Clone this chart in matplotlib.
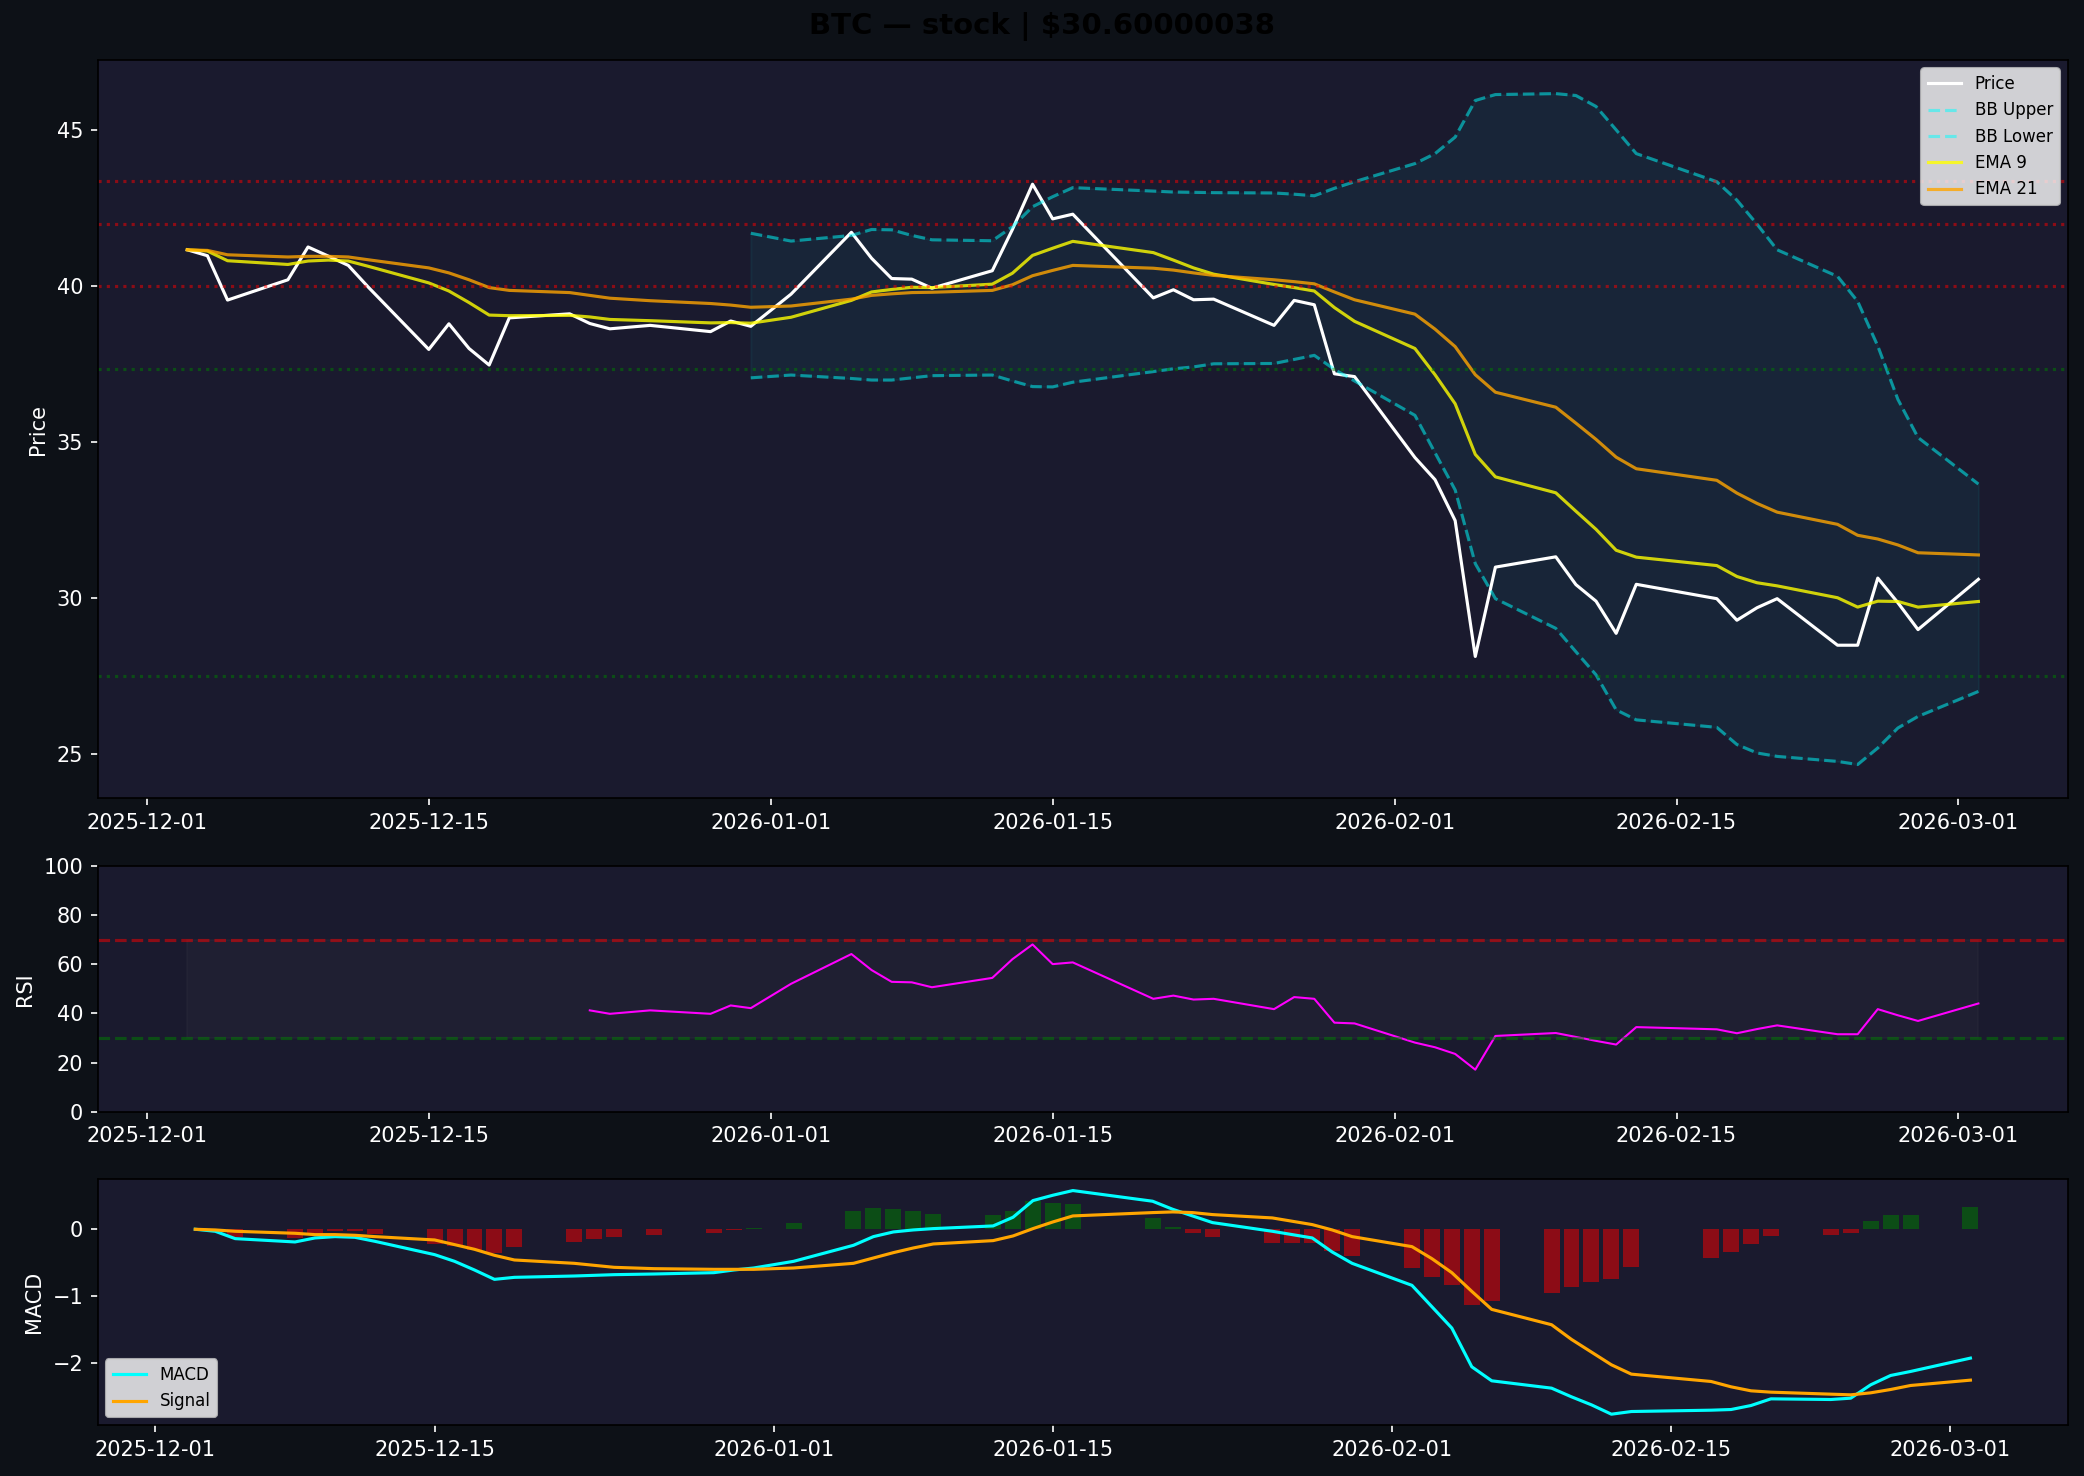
import matplotlib
matplotlib.use('Agg')
import matplotlib.pyplot as plt
import matplotlib.dates as mdates
import numpy as np
import pandas as pd

# trading days shown (weekdays, market holidays skipped)
dates = pd.bdate_range('2025-12-03', '2026-03-02', freq='C',
                       holidays=['2025-12-25', '2026-01-01', '2026-01-19', '2026-02-16'])

price = [41.15, 40.96, 39.54, 40.19, 41.24, 40.95, 40.65, 39.95, 37.96, 38.78,
         37.99, 37.46, 38.97, 39.10, 38.79, 38.62, 38.73, 38.53, 38.87, 38.70,
         39.73, 41.71, 40.88, 40.23, 40.21, 39.92, 40.48, 41.80, 43.25, 42.14,
         42.29, 39.61, 39.87, 39.55, 39.57, 38.73, 39.53, 39.39, 37.18, 37.09,
         34.50, 33.79, 32.48, 28.13, 30.99, 31.32, 30.43, 29.90, 28.87, 30.44,
         29.98, 29.29, 29.69, 29.98, 28.49, 28.49, 30.64, 29.85, 28.99, 30.60]

ema9 = [41.15, 41.11, 40.80, 40.68, 40.79, 40.82, 40.79, 40.62, 40.09, 39.83,
        39.46, 39.06, 39.04, 39.05, 39.00, 38.92, 38.88, 38.81, 38.82, 38.80,
        38.99, 39.53, 39.80, 39.88, 39.95, 39.94, 40.05, 40.40, 40.97, 41.20,
        41.42, 41.06, 40.82, 40.57, 40.37, 40.04, 39.94, 39.83, 39.30, 38.86,
        37.99, 37.15, 36.22, 34.60, 33.88, 33.37, 32.78, 32.20, 31.53, 31.31,
        31.04, 30.69, 30.49, 30.39, 30.01, 29.71, 29.90, 29.89, 29.71, 29.89]

ema21 = [41.15, 41.13, 40.99, 40.92, 40.94, 40.94, 40.92, 40.83, 40.57, 40.41,
         40.19, 39.94, 39.85, 39.78, 39.69, 39.60, 39.52, 39.43, 39.38, 39.31,
         39.35, 39.57, 39.69, 39.74, 39.78, 39.79, 39.85, 40.03, 40.32, 40.49,
         40.65, 40.56, 40.50, 40.41, 40.33, 40.19, 40.13, 40.06, 39.80, 39.55,
         39.09, 38.61, 38.05, 37.15, 36.59, 36.11, 35.60, 35.08, 34.51, 34.14,
         33.77, 33.36, 33.03, 32.75, 32.36, 32.01, 31.89, 31.70, 31.45, 31.38]

# Bollinger bands start at the 20th trading day
bb_start = 19
bb_upper = [41.68, 41.43, 41.61, 41.80, 41.79, 41.61, 41.47, 41.44, 41.89, 42.53,
            42.85, 43.14, 43.03, 43.00, 42.99, 42.98, 42.97, 42.93, 42.88, 43.12,
            43.33, 43.91, 44.23, 44.76, 45.93, 46.12, 46.15, 46.09, 45.74, 44.99,
            44.23, 43.33, 42.74, 41.97, 41.15, 40.30, 39.50, 38.07, 36.36, 35.14,
            33.65]
bb_lower = [37.05, 37.14, 37.03, 36.98, 36.98, 37.05, 37.12, 37.14, 36.95, 36.77,
            36.76, 36.91, 37.25, 37.34, 37.40, 37.50, 37.51, 37.64, 37.77, 37.32,
            36.95, 35.85, 34.65, 33.46, 31.10, 29.98, 29.03, 28.28, 27.54, 26.42,
            26.10, 25.86, 25.31, 25.04, 24.93, 24.77, 24.67, 25.20, 25.84, 26.21,
            27.01]

resistance = [43.34, 41.97, 40.00]
support = [37.34, 27.52]

# RSI starts at the 15th trading day
rsi_start = 14
rsi = [41.2, 39.8, 41.2, 39.8, 43.2, 42.1, 52.0, 64.1, 57.6, 52.8,
       52.6, 50.6, 54.4, 62.0, 68.0, 60.0, 60.7, 45.9, 47.2, 45.6,
       45.9, 41.7, 46.6, 45.9, 36.2, 35.9, 28.1, 26.2, 23.5, 17.1,
       30.8, 32.0, 30.4, 28.8, 27.3, 34.4, 33.5, 31.9, 33.6, 35.1,
       31.5, 31.5, 41.7, 39.2, 36.9, 44.0]

macd = [0.00, -0.03, -0.14, -0.19, -0.13, -0.11, -0.12, -0.18, -0.38, -0.48,
        -0.61, -0.75, -0.72, -0.70, -0.69, -0.68, -0.67, -0.65, -0.61, -0.58,
        -0.48, -0.24, -0.11, -0.04, -0.01, 0.01, 0.05, 0.18, 0.43, 0.51,
        0.58, 0.42, 0.30, 0.20, 0.10, -0.03, -0.08, -0.13, -0.34, -0.51,
        -0.84, -1.16, -1.48, -2.06, -2.27, -2.38, -2.51, -2.63, -2.77, -2.73,
        -2.71, -2.70, -2.64, -2.54, -2.55, -2.53, -2.33, -2.19, -2.13, -1.93]
signal = [0.00, -0.01, -0.03, -0.06, -0.08, -0.08, -0.09, -0.11, -0.16, -0.23,
          -0.30, -0.39, -0.46, -0.51, -0.54, -0.57, -0.59, -0.60, -0.60, -0.60,
          -0.58, -0.51, -0.43, -0.35, -0.28, -0.22, -0.17, -0.10, 0.01, 0.11,
          0.20, 0.25, 0.26, 0.25, 0.22, 0.17, 0.12, 0.07, -0.01, -0.11,
          -0.26, -0.44, -0.65, -0.93, -1.20, -1.43, -1.65, -1.84, -2.03, -2.17,
          -2.28, -2.36, -2.42, -2.44, -2.47, -2.48, -2.45, -2.40, -2.34, -2.26]
hist = [0.00, -0.02, -0.11, -0.13, -0.05, -0.03, -0.03, -0.07, -0.22, -0.25,
        -0.31, -0.36, -0.26, -0.19, -0.15, -0.11, -0.08, -0.05, -0.01, 0.02,
        0.10, 0.27, 0.32, 0.31, 0.27, 0.23, 0.22, 0.28, 0.42, 0.40,
        0.38, 0.17, 0.04, -0.05, -0.12, -0.20, -0.20, -0.20, -0.33, -0.40,
        -0.58, -0.72, -0.83, -1.13, -1.07, -0.95, -0.86, -0.79, -0.74, -0.56,
        -0.43, -0.34, -0.22, -0.10, -0.09, -0.05, 0.12, 0.21, 0.21, 0.33]

tick_dates = pd.to_datetime(['2025-12-01', '2025-12-15', '2026-01-01', '2026-01-15',
                             '2026-02-01', '2026-02-15', '2026-03-01'])

title = 'BTC — stock | $30.60000038'

BG = '#0d1117'
PANEL = '#1a1a2e'

fig = plt.figure(figsize=(2084 / 150, 1476 / 150), dpi=150, facecolor=BG)
gs = fig.add_gridspec(3, 1, height_ratios=[3, 1, 1], left=0.0469, right=0.9923,
                      top=0.9593, bottom=0.0343, hspace=0.165)
ax1 = fig.add_subplot(gs[0])
ax2 = fig.add_subplot(gs[1])
ax3 = fig.add_subplot(gs[2])

# price panel
bb_dates = dates[bb_start:]
ax1.plot(dates, price, color='white', linewidth=1.5, label='Price')
ax1.plot(bb_dates, bb_upper, color='cyan', linestyle='--', alpha=0.5, label='BB Upper')
ax1.plot(bb_dates, bb_lower, color='cyan', linestyle='--', alpha=0.5, label='BB Lower')
ax1.fill_between(bb_dates, bb_lower, bb_upper, color='cyan', alpha=0.05)
ax1.plot(dates, ema9, color='yellow', alpha=0.8, label='EMA 9')
ax1.plot(dates, ema21, color='orange', alpha=0.8, label='EMA 21')
for lvl in resistance:
    ax1.axhline(lvl, color='red', linestyle=':', alpha=0.5)
for lvl in support:
    ax1.axhline(lvl, color='green', linestyle=':', alpha=0.5)
ax1.set_ylabel('Price', color='white')
ax1.legend(loc='upper right', fontsize=8)

# RSI panel
ax2.plot(dates[rsi_start:], rsi, color='magenta', linewidth=1)
ax2.axhline(70, color='red', linestyle='--', alpha=0.5)
ax2.axhline(30, color='green', linestyle='--', alpha=0.5)
ax2.fill_between(dates, 30, 70, color='gray', alpha=0.05)
ax2.set_ylim(0, 100)
ax2.set_ylabel('RSI', color='white')

# MACD panel
bar_colors = ['green' if h >= 0 else 'red' for h in hist]
ax3.bar(dates, hist, color=bar_colors, alpha=0.5)
ax3.plot(dates, macd, color='cyan', linewidth=1.5, label='MACD')
ax3.plot(dates, signal, color='orange', linewidth=1.5, label='Signal')
ax3.set_ylabel('MACD', color='white')
ax3.legend(loc='lower left', fontsize=8)

for ax in (ax1, ax2, ax3):
    ax.set_facecolor(PANEL)
    ax.tick_params(colors='white')
    ax.set_xticks(tick_dates)
    ax.xaxis.set_major_formatter(mdates.DateFormatter('%Y-%m-%d'))

fig.suptitle(title, fontsize=14, fontweight='bold', y=0.982, va='center')

fig.savefig('out.png', dpi=150, facecolor=BG)
